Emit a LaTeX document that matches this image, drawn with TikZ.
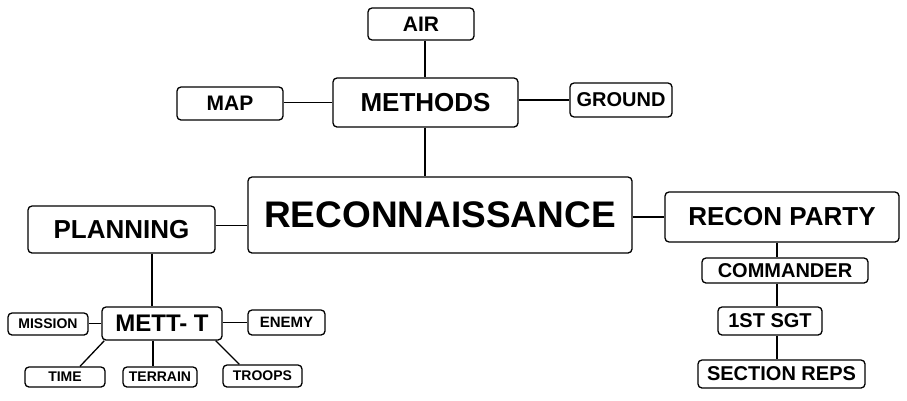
\documentclass[tikz,border=0pt]{standalone}
\usepackage{fontspec}
\setmainfont{Liberation Sans}
\usepackage{tikz}
\usetikzlibrary{calc}

\tikzset{
  box/.style={draw, black, line width=1.3pt, rounded corners=4pt, inner sep=0pt, align=center},
  huge txt/.style={font=\fontsize{37}{37}\selectfont\bfseries},
  big txt/.style={font=\fontsize{26}{26}\selectfont\bfseries},
  mid txt/.style={font=\fontsize{21}{21}\selectfont\bfseries},
  sub txt/.style={font=\fontsize{20}{20}\selectfont\bfseries},
  small txt/.style={font=\fontsize{14}{14}\selectfont\bfseries},
  link/.style={draw, black, line width=1.3pt}
}

\begin{document}
\begin{tikzpicture}[x=1pt, y=-1pt]
            \useasboundingbox (0,0) rectangle (907,400);
            \node[box, huge txt, minimum width=384pt, minimum height=76pt] (recon) at (440,215) {RECONNAISSANCE};
            \node[box, big txt, minimum width=185pt, minimum height=49pt] (methods) at (425.5,102.5) {METHODS};
            \node[box, mid txt, minimum width=106pt, minimum height=32pt] (air) at (421,24) {AIR};
            \node[box, mid txt, minimum width=106pt, minimum height=33pt] (map) at (230,103.5) {MAP};
            \node[box, sub txt, minimum width=102pt, minimum height=34pt] (ground) at (621,100) {GROUND};
            \node[box, big txt, minimum width=187pt, minimum height=47pt] (planning) at (121.5,229.5) {PLANNING};
            \node[box, big txt, minimum width=234pt, minimum height=50pt] (party) at (782,217) {RECON PARTY};
            \node[box, sub txt, minimum width=166pt, minimum height=25pt] (cmdr) at (785,270.5) {COMMANDER};
            \node[box, sub txt, minimum width=104pt, minimum height=28pt] (sgt) at (770,321) {1ST SGT};
            \node[box, sub txt, minimum width=167pt, minimum height=28pt] (reps) at (781.5,374) {SECTION REPS};
            \node[box, big txt, font=\fontsize{24}{24}\selectfont\bfseries, minimum width=120pt, minimum height=33pt] (mett) at (162,323.5) {METT- T};
            \node[box, small txt, minimum width=80pt, minimum height=22pt] (mission) at (48,324) {MISSION};
            \node[box, small txt, font=\fontsize{15}{15}\selectfont\bfseries, minimum width=77pt, minimum height=25pt] (enemy) at (286.5,322.5) {ENEMY};
            \node[box, small txt, minimum width=80pt, minimum height=20pt] (time) at (65,377) {TIME};
            \node[box, small txt, minimum width=74pt, minimum height=20pt] (terrain) at (160,377) {TERRAIN};
            \node[box, small txt, minimum width=79pt, minimum height=22pt] (troops) at (262.5,376) {TROOPS};

            \coordinate (mx) at (425,0);
            \coordinate (px) at (152,0);
            \coordinate (tx) at (153,0);
            \coordinate (rx) at (777,0);

            \draw[link] (air.south -| mx) -- (methods.north -| mx);
            \draw[link] (methods.west) -- (methods.west -| map.east);
            \draw[link] (methods.east |- ground.west) -- (ground.west);
            \draw[link] (methods.south -| mx) -- (recon.north -| mx);
            \draw[link] ($(planning.east)+(0,-4)$) -- ($(planning.east -| recon.west)+(0,-4)$);
            \draw[link] (party.west -| recon.east) -- (party.west);
            \draw[link] (party.south -| rx) -- (cmdr.north -| rx);
            \draw[link] (cmdr.south -| rx) -- (sgt.north -| rx);
            \draw[link] (sgt.south -| rx) -- (reps.north -| rx);
            \draw[link] (planning.south -| px) -- (mett.north -| px);
            \draw[link] (mett.west) -- (mett.west -| mission.east);
            \draw[link] (mett.east |- enemy.west) -- (enemy.west);
            \draw[link] ([xshift=3pt]mett.south west) -- ([xshift=15pt]time.north);
            \draw[link] (mett.south -| tx) -- (terrain.north -| tx);
            \draw[link] ([xshift=-7pt]mett.south east) -- ([xshift=17pt]troops.north west);
        \end{tikzpicture}
\end{document}
